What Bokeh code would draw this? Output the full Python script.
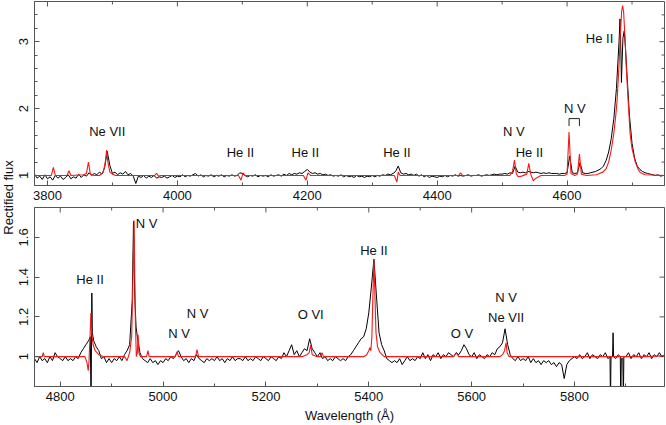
import numpy as np
from bokeh.plotting import figure
from bokeh.layouts import row, column
from bokeh.models import Range1d, LinearAxis, FixedTicker, CustomJSTickFormatter
from bokeh.core.properties import value
from bokeh.embed import file_html
from bokeh.resources import INLINE

FONT = "Liberation Sans"
FRAME = "#555555"
RED = "#f21a1a"

# ---------------- top panel (3780-4750 A) ----------------
top_obs_start = 3780.0
top_obs_step = 4.0
top_obs_flux = [
    1.02, 0.96, 0.99, 0.94, 1.01, 0.95, 0.98, 0.93, 1.00, 0.96,
    0.99, 0.94, 0.97, 1.01, 0.95, 0.98, 0.96, 1.02, 0.97, 1.01,
    0.99, 1.04, 1.00, 1.03, 1.01, 1.05, 1.02, 1.12, 1.36, 1.15,
    1.03, 1.05, 1.01, 1.04, 1.02, 1.06, 1.01, 1.03, 0.99, 0.88,
    0.99, 0.97, 1.00, 0.96, 0.99, 0.97, 1.00, 0.96, 0.98, 0.97,
    0.99, 0.96, 0.98, 1.00, 0.97, 0.99, 0.98, 1.01, 0.98, 1.00,
    0.99, 1.01, 1.03, 0.99, 1.01, 0.98, 1.00, 0.99, 1.01, 0.98,
    1.00, 0.99, 1.01, 0.98, 1.00, 0.99, 1.01, 0.99, 1.00, 1.04,
    1.03, 1.00, 0.98, 1.00, 0.99, 1.01, 0.98, 1.00, 0.99, 1.00,
    0.98, 1.01, 0.99, 1.00, 1.01, 0.99, 1.02, 1.00, 1.03, 1.01,
    1.03, 1.02, 1.04, 1.03, 1.06, 1.09, 1.05, 1.03, 1.04, 1.02,
    1.03, 1.01, 1.02, 1.00, 1.01, 0.99, 1.00, 0.99, 1.01, 0.98,
    1.00, 0.98, 0.99, 0.97, 1.00, 0.98, 0.99, 0.97, 0.99, 0.98,
    1.00, 0.98, 1.00, 0.99, 1.01, 1.00, 1.02, 1.01, 1.03, 1.06,
    1.14, 1.04, 1.02, 1.03, 1.01, 1.02, 1.00, 1.02, 0.99, 1.01,
    0.98, 1.00, 0.97, 0.99, 0.98, 0.97, 0.99, 0.98, 1.00, 0.98,
    1.00, 0.99, 1.01, 0.99, 1.00, 0.99, 1.00, 1.01, 0.99, 1.00,
    1.00, 1.01, 0.99, 1.00, 1.01, 1.00, 1.01, 1.02, 1.01, 1.02,
    1.02, 1.03, 1.02, 1.04, 1.03, 1.14, 1.05, 1.04, 1.05, 1.04,
    1.06, 1.05, 1.04, 1.05, 1.04, 1.03, 1.04, 1.03, 1.04, 1.03,
    1.03, 1.03, 1.02, 1.03, 1.03, 1.04, 1.29, 1.04, 1.03, 1.04,
    1.19, 1.04, 1.03, 1.03, 1.04, 1.05, 1.06, 1.08, 1.10, 1.14,
    1.22, 1.35, 1.55, 1.85, 2.30, 3.00, 2.50, 3.16, 2.55, 1.90,
    1.48, 1.26, 1.14, 1.09, 1.06, 1.04, 1.03, 1.02, 1.01, 1.00,
    1.01, 0.99, 1.00,
]
top_obs_extra_wl = [4681.5, 4683.0, 4683.7, 4686.0, 4690.0]
top_obs_extra_flux = [3.34, 2.80, 2.39, 3.05, 2.90]

top_mod_wl = [3780, 3806, 3809, 3812, 3830, 3833, 3836, 3855, 3860, 3863, 3866, 3872,
              3880, 3886, 3889, 3891, 3893, 3896, 3900, 3905, 3965, 3968, 3971, 3975,
              4094, 4098, 4101, 4104, 4194, 4198, 4201, 4205, 4334, 4338, 4340, 4343,
              4433, 4436, 4439, 4512, 4516, 4519, 4522, 4525, 4530, 4538, 4541, 4544,
              4548, 4552, 4560, 4596, 4600, 4603, 4606, 4612, 4616, 4619, 4622, 4630,
              4645, 4650, 4655, 4660, 4664, 4668, 4672, 4675, 4677, 4680, 4682, 4684,
              4685.5, 4687, 4689, 4691, 4694, 4697, 4700, 4705, 4710, 4713, 4720, 4750]
top_mod_flux = [1.0, 1.0, 1.12, 1.0, 1.0, 1.07, 1.0, 1.01, 1.03, 1.2, 1.02, 1.0,
                1.0, 1.05, 1.2, 1.38, 1.2, 1.05, 1.02, 1.0, 1.0, 1.03, 0.99, 1.0,
                1.0, 0.93, 1.04, 1.0, 1.0, 0.93, 1.04, 1.0, 1.0, 0.90, 1.05, 1.0,
                1.0, 1.04, 1.0, 1.0, 1.06, 1.23, 1.02, 0.98, 0.99, 1.02, 1.18, 1.02,
                0.92, 0.96, 1.0, 1.0, 1.02, 1.65, 1.03, 1.0, 1.02, 1.32, 1.02, 1.0,
                1.01, 1.03, 1.05, 1.10, 1.20, 1.38, 1.63, 1.90, 2.12, 2.65, 3.10, 3.45,
                3.54, 3.45, 3.10, 2.65, 2.12, 1.63, 1.40, 1.20, 1.08, 1.04, 1.01, 1.0]

top_labels = ["Ne VII", "He II", "He II", "He II", "N V", "He II", "N V", "He II"]
top_label_wl = [3892, 4097, 4197, 4338, 4518, 4542, 4612, 4650]
top_label_flux = [1.65, 1.35, 1.35, 1.35, 1.65, 1.35, 2.0, 3.05]
nv_bracket_wl = [4603, 4603, 4619, 4619]
nv_bracket_flux = [1.74, 1.85, 1.85, 1.74]

top_xrange = (3780, 4750)
top_yrange = (0.85, 3.6)
top_xticks = [3800, 4000, 4200, 4400, 4600]
top_xminor = [3900, 4100, 4300, 4500, 4700]
top_yticks = [1, 2, 3]
top_yminor = [0.8, 1.2, 1.4, 1.6, 1.8, 2.2, 2.4, 2.6, 2.8, 3.2, 3.4]

# ---------------- bottom panel (4750-5975 A) ----------------
bot_obs_start = 4750.0
bot_obs_step = 5.0
bot_obs_flux = [
    0.99, 0.97, 1.00, 0.98, 0.99, 0.97, 1.00, 0.98, 1.02, 1.00,
    0.99, 0.98, 1.00, 0.98, 0.99, 0.98, 1.00, 0.99, 1.02, 1.04,
    1.06, 1.08, 0.75, 1.08, 1.05, 1.03, 0.99, 1.00, 0.97, 0.99,
    0.97, 0.99, 0.98, 1.00, 0.98, 1.01, 1.03, 1.06, 1.28, 1.30,
    1.10, 1.02, 0.99, 0.98, 0.97, 0.99, 0.97, 0.98, 0.96, 0.98,
    0.97, 0.99, 0.98, 1.00, 0.99, 1.01, 1.03, 1.00, 0.98, 0.99,
    0.97, 0.99, 0.98, 1.01, 0.99, 0.98, 0.97, 0.99, 0.98, 0.99,
    0.98, 1.00, 0.98, 0.99, 0.97, 0.99, 0.98, 1.00, 0.98, 0.99,
    0.99, 0.98, 1.00, 0.98, 0.99, 0.98, 1.00, 0.99, 0.98, 1.00,
    0.99, 0.98, 1.00, 0.99, 0.98, 1.00, 0.99, 1.02, 1.00, 1.03,
    1.06, 1.01, 1.03, 1.00, 1.02, 1.04, 1.03, 1.09, 1.04, 1.02,
    1.00, 1.02, 0.99, 1.00, 0.98, 0.99, 0.98, 1.00, 0.99, 0.98,
    0.99, 0.98, 1.00, 1.01, 1.03, 1.05, 1.07, 1.09, 1.10, 1.14,
    1.22, 1.35, 1.49, 1.30, 1.12, 1.06, 1.03, 0.99, 0.98, 0.97,
    0.98, 0.97, 0.99, 0.96, 0.98, 1.00, 0.98, 0.99, 0.98, 1.00,
    0.99, 1.02, 0.99, 1.01, 0.98, 1.01, 1.00, 1.02, 0.99, 1.01,
    1.00, 1.02, 1.01, 1.00, 1.02, 1.01, 1.03, 1.06, 1.04, 1.01,
    1.00, 1.02, 0.99, 1.01, 1.00, 0.99, 1.01, 1.00, 1.02, 1.01,
    1.04, 1.05, 1.07, 1.14, 1.06, 1.01, 0.99, 0.98, 1.00, 0.98,
    0.99, 0.98, 1.00, 0.97, 0.99, 0.97, 0.98, 0.96, 0.98, 0.97,
    0.98, 0.96, 0.97, 0.95, 0.97, 0.96, 0.89, 0.96, 0.98, 0.99,
    1.00, 0.99, 1.01, 0.99, 1.00, 1.02, 0.99, 1.01, 1.00, 0.99,
    1.01, 1.00, 1.02, 0.99, 0.76, 1.12, 0.99, 1.01, 0.76, 0.78,
    1.00, 1.02, 0.99, 1.01, 1.00, 1.02, 0.99, 1.01, 1.00, 1.02,
    0.99, 1.01, 1.00, 1.02, 1.00, 1.01,
]
bot_obs_extra_wl = [4858.5, 4861.5, 4862.5, 4942.5, 4947.5,
                    5869, 5871, 5874, 5876, 5889, 5891, 5894, 5896]
bot_obs_extra_flux = [1.10, 1.32, 1.12, 1.68, 1.15,
                      1.00, 1.00, 1.00, 1.00, 1.00, 0.99, 0.99, 1.00]

bot_mod_wl = [4750, 4765, 4767, 4769, 4848, 4852, 4854.5, 4856, 4858, 4859.6, 4861, 4864,
              4868, 4875, 4885, 4925, 4930, 4935, 4939, 4941.5, 4943.7, 4946, 4948, 4950,
              4951.5, 4953, 4956, 4968, 4970.5, 4973, 5024, 5027, 5030, 5063, 5066, 5069,
              5270, 5280, 5284, 5287, 5290, 5300, 5306, 5309, 5312, 5390, 5396, 5400,
              5402, 5404, 5406, 5408, 5410, 5412, 5414, 5417, 5422, 5430, 5565, 5570,
              5575, 5655, 5660, 5664, 5667, 5669, 5673, 5940, 5975]
bot_mod_flux = [1.0, 1.0, 1.02, 1.0, 1.0, 0.97, 0.93, 0.98, 1.10, 1.22, 1.12, 1.06,
                1.03, 1.01, 1.0, 1.0, 0.98, 1.02, 1.10, 1.40, 1.685, 1.20, 1.0, 1.02,
                1.11, 1.02, 1.0, 1.0, 1.03, 1.0, 1.0, 1.025, 1.0, 1.0, 1.035, 1.0,
                1.0, 1.01, 1.02, 1.057, 1.01, 1.0, 1.0, 1.02, 1.0, 1.0, 1.01, 1.03,
                1.045, 1.03, 1.10, 1.30, 1.49, 1.30, 1.12, 1.05, 1.02, 1.0, 1.0, 1.02,
                1.0, 1.0, 1.01, 1.03, 1.07, 1.02, 1.0, 1.0, 1.005]

bot_labels = ["He II", "N V", "N V", "N V", "O VI", "He II", "O V", "N V", "Ne VII"]
bot_label_wl = [4858, 4968, 5031, 5067, 5287, 5410, 5581, 5667, 5667]
bot_label_flux = [1.39, 1.67, 1.115, 1.215, 1.21, 1.535, 1.115, 1.30, 1.197]

bot_xrange = (4750, 5975)
bot_yrange = (0.85, 1.75)
bot_xticks = [4800, 5000, 5200, 5400, 5600, 5800]
bot_xminor = [4900, 5100, 5300, 5500, 5700, 5900]
bot_yticks = [1.0, 1.2, 1.4, 1.6]
bot_yminor = []

x_title = "Wavelength (\u00c5)"
y_title = "Rectified flux"


def merged(start, step, flux, ewl, efx):
    wl = start + step * np.arange(len(flux))
    w = np.concatenate([wl, np.array(ewl, float)])
    f = np.concatenate([np.array(flux, float), np.array(efx, float)])
    o = np.argsort(w, kind="stable")
    return w[o], f[o]


fmt = CustomJSTickFormatter(code="return String(Math.round(tick*10)/10)")


def style_axis(ax, standoff):
    ax.axis_line_color = FRAME
    ax.major_tick_line_color = FRAME
    ax.minor_tick_line_color = FRAME
    ax.major_tick_in = 5
    ax.major_tick_out = 0
    ax.minor_tick_in = 3
    ax.minor_tick_out = 0
    ax.major_label_text_font = FONT
    ax.major_label_text_color = "#111111"
    ax.major_label_text_font_size = "13px"
    ax.major_label_standoff = standoff


def mirror_ticks(p, xr, yr, xt, xm, yt, ym):
    # tick marks on the top and right edges (half of each marker is clipped by the frame)
    if xt:
        p.scatter(x=xt, y=[yr[1]] * len(xt), marker="dash", angle=np.pi / 2, size=10,
                  line_color=FRAME, line_width=1)
    if xm:
        p.scatter(x=xm, y=[yr[1]] * len(xm), marker="dash", angle=np.pi / 2, size=6,
                  line_color=FRAME, line_width=1)
    if yt:
        p.scatter(x=[xr[1]] * len(yt), y=yt, marker="dash", size=10,
                  line_color=FRAME, line_width=1)
    if ym:
        p.scatter(x=[xr[1]] * len(ym), y=ym, marker="dash", size=6,
                  line_color=FRAME, line_width=1)


def make_panel(xr, yr, height, btop, bbot, xt, xm, yt, ym, xlabel=None):
    p = figure(width=650, height=height, x_range=Range1d(*xr), y_range=Range1d(*yr),
               output_backend="svg", toolbar_location=None,
               x_axis_location=None, y_axis_location=None,
               min_border_left=18, min_border_right=2,
               min_border_top=btop, min_border_bottom=bbot)
    for g in p.grid:
        g.visible = False
    p.outline_line_color = FRAME
    p.outline_line_width = 1
    xax = LinearAxis(ticker=FixedTicker(ticks=xt, minor_ticks=xm))
    style_axis(xax, 5)
    if xlabel:
        xax.axis_label = xlabel
        xax.axis_label_text_font = FONT
        xax.axis_label_text_font_size = "13px"
        xax.axis_label_text_font_style = "normal"
        xax.axis_label_text_color = "#111111"
        xax.axis_label_standoff = 4
    p.add_layout(xax, "below")
    yax = LinearAxis(ticker=FixedTicker(ticks=yt, minor_ticks=ym), formatter=fmt)
    style_axis(yax, 6)
    yax.major_label_orientation = "vertical"
    p.add_layout(yax, "left")
    mirror_ticks(p, xr, yr, xt, xm, yt, ym)
    return p


# top panel
top = make_panel(top_xrange, top_yrange, 206, 1, 21,
                 top_xticks, top_xminor, top_yticks, top_yminor)
tw, tf = merged(top_obs_start, top_obs_step, top_obs_flux, top_obs_extra_wl, top_obs_extra_flux)
top.line(tw, tf, line_color="black", line_width=1)
top.line(top_mod_wl, top_mod_flux, line_color=RED, line_width=1.1)
top.line(nv_bracket_wl, nv_bracket_flux, line_color="#222222", line_width=1)
top.text(x=top_label_wl, y=top_label_flux, text=top_labels, text_font=value(FONT),
         text_font_size="13px", text_align="center", text_baseline="middle",
         text_color="#111111")

# bottom panel
bot = make_panel(bot_xrange, bot_yrange, 219, 1, 37,
                 bot_xticks, bot_xminor, bot_yticks, bot_yminor, xlabel=x_title)
bw, bf = merged(bot_obs_start, bot_obs_step, bot_obs_flux, bot_obs_extra_wl, bot_obs_extra_flux)
bot.line(bw, bf, line_color="black", line_width=1)
bot.line(bot_mod_wl, bot_mod_flux, line_color=RED, line_width=1.1)
bot.text(x=bot_label_wl, y=bot_label_flux, text=bot_labels, text_font=value(FONT),
         text_font_size="13px", text_align="center", text_baseline="middle",
         text_color="#111111")

# shared y title
lab = figure(width=16, height=425, x_range=Range1d(0, 16), y_range=Range1d(0, 425),
             output_backend="svg", toolbar_location=None,
             x_axis_location=None, y_axis_location=None, min_border=0)
for g in lab.grid:
    g.visible = False
lab.outline_line_color = None
lab.text(x=[8], y=[228], text=[y_title], angle=np.pi / 2, text_font=value(FONT),
         text_font_size="13px", text_align="center", text_baseline="middle",
         text_color="#111111")

layout = row(lab, column(top, bot, spacing=0), spacing=0)

open("out.html", "w").write(file_html(layout, INLINE))
